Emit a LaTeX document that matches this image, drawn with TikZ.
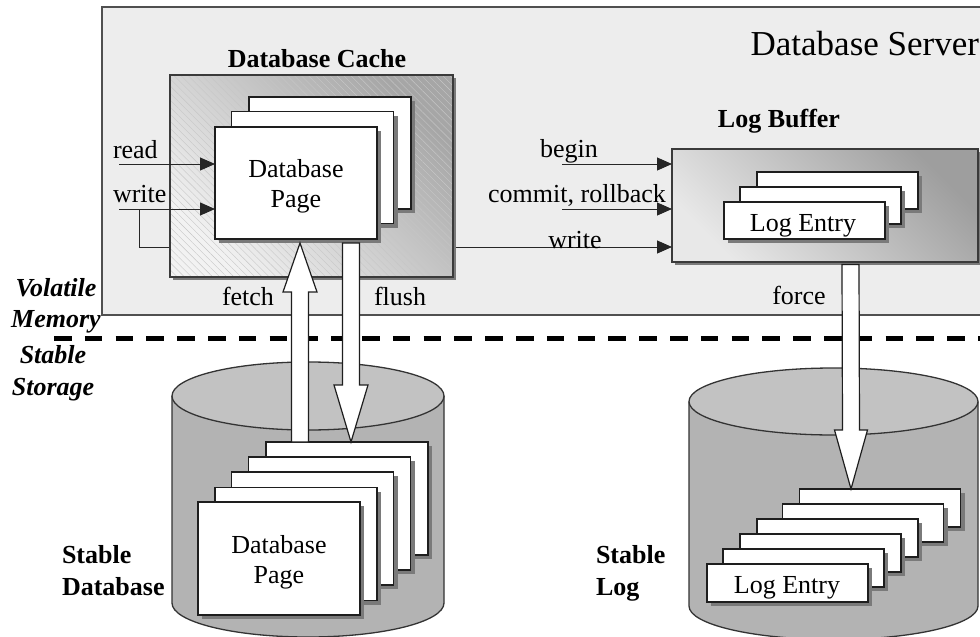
\documentclass[tikz,border=0pt]{standalone}
\usepackage{fontspec}
\setmainfont{Liberation Serif}
\usetikzlibrary{arrows.meta,shadows,calc,patterns.meta}
\definecolor{srvfill}{HTML}{EDEDED}
\definecolor{srvline}{HTML}{505050}
\definecolor{boxline}{HTML}{3A3A3A}
\definecolor{shadowc}{HTML}{7A7A7A}
\definecolor{cachedark}{HTML}{A6A6A6}
\definecolor{cachelight}{HTML}{F2F2F2}
\definecolor{hatchc}{HTML}{C6C6C6}
\definecolor{bufdark}{HTML}{9E9E9E}
\definecolor{buflight}{HTML}{E8E8E8}
\definecolor{cylbody}{HTML}{B3B3B3}
\definecolor{cyltop}{HTML}{C2C2C2}
\definecolor{cylline}{HTML}{333333}
\definecolor{pageline}{HTML}{1E1E1E}
\begin{document}
\begin{tikzpicture}[x=1pt, y=-1pt,
  every node/.style={inner sep=0pt, outer sep=0pt},
  txt/.style={anchor=base, font=\fontsize{26}{30}\selectfont},
  txtw/.style={anchor=base west, font=\fontsize{26}{30}\selectfont},
  boldtxt/.style={anchor=base, font=\fontsize{26}{30}\selectfont\bfseries},
  boldw/.style={anchor=base west, font=\fontsize{26}{30}\selectfont\bfseries},
  ittxt/.style={anchor=base, font=\fontsize{26}{30}\selectfont\bfseries\itshape},
  page/.style={draw=pageline, line width=1.2pt, fill=white,
    drop shadow={shadow xshift=4pt, shadow yshift=-4pt, fill=shadowc, opacity=1}},
  cachepage/.style={page, minimum width=162pt, minimum height=112pt},
  bufpage/.style={page, minimum width=161pt, minimum height=37pt},
  dbpage/.style={page, minimum width=162pt, minimum height=113pt},
  slpage/.style={page, minimum width=161pt, minimum height=38pt},
  arr/.style={draw=black!85, line width=1pt, -{Triangle[length=15pt,width=13pt]}},
  fat/.style={draw=pageline, line width=1.2pt, fill=white, line join=miter},
  cylout/.style={draw=cylline, line width=1.3pt},
  boxshadow/.style={drop shadow={shadow xshift=3pt, shadow yshift=-3pt, fill=shadowc, opacity=1}}
]
\useasboundingbox (0,0) rectangle (980,637);
\clip (0,0) rectangle (980,637);

% server
\node[draw=srvline, line width=1.2pt, fill=srvfill, minimum width=900pt, minimum height=308pt] (srv) at (552,161) {};
\node[anchor=base east, font=\fontsize{35}{40}\selectfont] (srvt) at (979,55) {Database Server};

% log buffer
\node[draw=boxline, line width=1.5pt, minimum width=306pt, minimum height=113pt,
  top color=bufdark, bottom color=buflight, shading angle=-45, boxshadow] (logbuf) at (825,205.5) {};
\node[bufpage] (le3) at (837.5,190.5) {};
\node[bufpage] (le2) at (820.5,205.5) {};
\node[bufpage] (le1) at (804.5,220.5) {};
\node[txt] (le1t) at (803,231) {Log Entry};

% write branch (behind cache)
\coordinate (wb) at (139,209);
\draw[arr] (wb) |- (logbuf.west |- 0,247);

% cache
\node[draw=boxline, line width=1.5pt, minimum width=283pt, minimum height=202pt,
  top color=cachedark, bottom color=cachelight, shading angle=-45, boxshadow] (cache) at (311.5,176) {};
\fill[pattern={Lines[angle=-45,distance=5pt,line width=0.4pt]}, pattern color=hatchc]
  (cache.north west) rectangle (cache.south east);
\draw[draw=boxline, line width=1.5pt] (cache.north west) rectangle (cache.south east);
\node[cachepage] (cp3) at (330,153) {};
\node[cachepage] (cp2) at (312.5,167.5) {};
\node[cachepage] (cp1) at (296,183) {};
\node[txt] (cp1a) at (296,177) {Database};
\node[txt] (cp1b) at (296,207) {Page};

% thin arrows
\coordinate (rs) at (119,164);
\draw[arr] (rs) -- (rs -| cp1.west);
\coordinate (ws) at (119,209);
\draw[arr] (ws) -- (ws -| cp1.west);
\coordinate (bs) at (562,164);
\draw[arr] (bs) -- (bs -| logbuf.west);
\coordinate (cs) at (562,209);
\draw[arr] (cs) -- (cs -| logbuf.west);

% dashed boundary
\coordinate (dl) at (54,338);
\coordinate (dr) at (990,338);
\draw[line width=5pt, dash pattern=on 17.5pt off 13.3pt] (dl) -- (dr);

% left cylinder
\fill[cylbody] (172,396) -- (172,603) arc[start angle=180,end angle=360,x radius=136pt,y radius=34pt] -- (444,396) -- cycle;
\draw[cylout] (172,396) -- (172,603) arc[start angle=180,end angle=360,x radius=136pt,y radius=34pt] -- (444,396);
\filldraw[fill=cyltop, cylout] (308,396) ellipse [x radius=136pt, y radius=34pt];
\node[dbpage] (dp5) at (347,498.5) {};
\node[dbpage] (dp4) at (329.5,513.5) {};
\node[dbpage] (dp3) at (312.5,528.5) {};
\node[dbpage] (dp2) at (296,544) {};
\node[dbpage] (dp1) at (279,558.5) {};
\node[txt] (dp1a) at (279,553) {Database};
\node[txt] (dp1b) at (279,583) {Page};

% right cylinder
\fill[cylbody] (689,401.5) -- (689,606) arc[start angle=180,end angle=360,x radius=144.5pt,y radius=33.5pt] -- (978,401.5) -- cycle;
\draw[cylout] (689,401.5) -- (689,606) arc[start angle=180,end angle=360,x radius=144.5pt,y radius=33.5pt] -- (978,401.5);
\filldraw[fill=cyltop, cylout] (833.5,401.5) ellipse [x radius=144.5pt, y radius=33.5pt];
\node[slpage] (sl6) at (880,508) {};
\node[slpage] (sl5) at (863,523) {};
\node[slpage] (sl4) at (837.5,538) {};
\node[slpage] (sl3) at (820.5,553) {};
\node[slpage] (sl2) at (803.5,568) {};
\node[slpage] (sl1) at (787.5,583) {};
\node[txt] (sl1t) at (787,593) {Log Entry};

% fat arrows
\coordinate (fT) at ($(dp5.north)+(-47,0)$);
\coordinate (fH) at ($(cp1.south)+(4,4)$);
\draw[fat] ($(fT)+(-8.5,0)$) -- ($(fH)+(-8.5,49)$) -- ($(fH)+(-17,49)$) -- (fH)
  -- ($(fH)+(17,49)$) -- ($(fH)+(8.5,49)$) -- ($(fT)+(8.5,0)$) -- cycle;
\coordinate (uT) at ($(cp1.south)+(55,4)$);
\coordinate (uH) at ($(dp5.north)+(4,0)$);
\draw[fat] ($(uT)+(-8.5,0)$) -- ($(uH)+(-8.5,-57)$) -- ($(uH)+(-17,-57)$) -- (uH)
  -- ($(uH)+(17,-57)$) -- ($(uH)+(8.5,-57)$) -- ($(uT)+(8.5,0)$) -- cycle;
\coordinate (gT) at ($(logbuf.south)+(25.5,2.5)$);
\coordinate (gH) at ($(sl6.north)+(-29,0)$);
\draw[fat] ($(gT)+(-8.5,0)$) -- ($(gH)+(-8.5,-59)$) -- ($(gH)+(-16.5,-59)$) -- (gH)
  -- ($(gH)+(16.5,-59)$) -- ($(gH)+(8.5,-59)$) -- ($(gT)+(8.5,0)$) -- cycle;

% labels
\node[txtw] (lread) at (113,158) {read};
\node[txtw] (lwrite) at (113,202) {write};
\node[txt] (lbegin) at (569,157) {begin};
\node[txt] (lcommit) at (577,202) {commit, rollback};
\node[txt] (lwrite2) at (575,248) {write};
\node[boldtxt] (lcache) at (317,67) {Database Cache};
\node[boldtxt] (lbuf) at (779,127) {Log Buffer};
\node[txt] (lfetch) at (248,305) {fetch};
\node[txt] (lflush) at (400,305) {flush};
\node[txt] (lforce) at (799,304) {force};
\node[ittxt] (lvol) at (56,296) {Volatile};
\node[ittxt] (lmem) at (56,327) {Memory};
\node[ittxt] (lsta) at (53,363) {Stable};
\node[ittxt] (lsto) at (53,395) {Storage};
\node[boldw] (lsdb1) at (62,563) {Stable};
\node[boldw] (lsdb2) at (62,595) {Database};
\node[boldw] (lsl1) at (596,563) {Stable};
\node[boldw] (lsl2) at (596,595) {Log};
\end{tikzpicture}
\end{document}
